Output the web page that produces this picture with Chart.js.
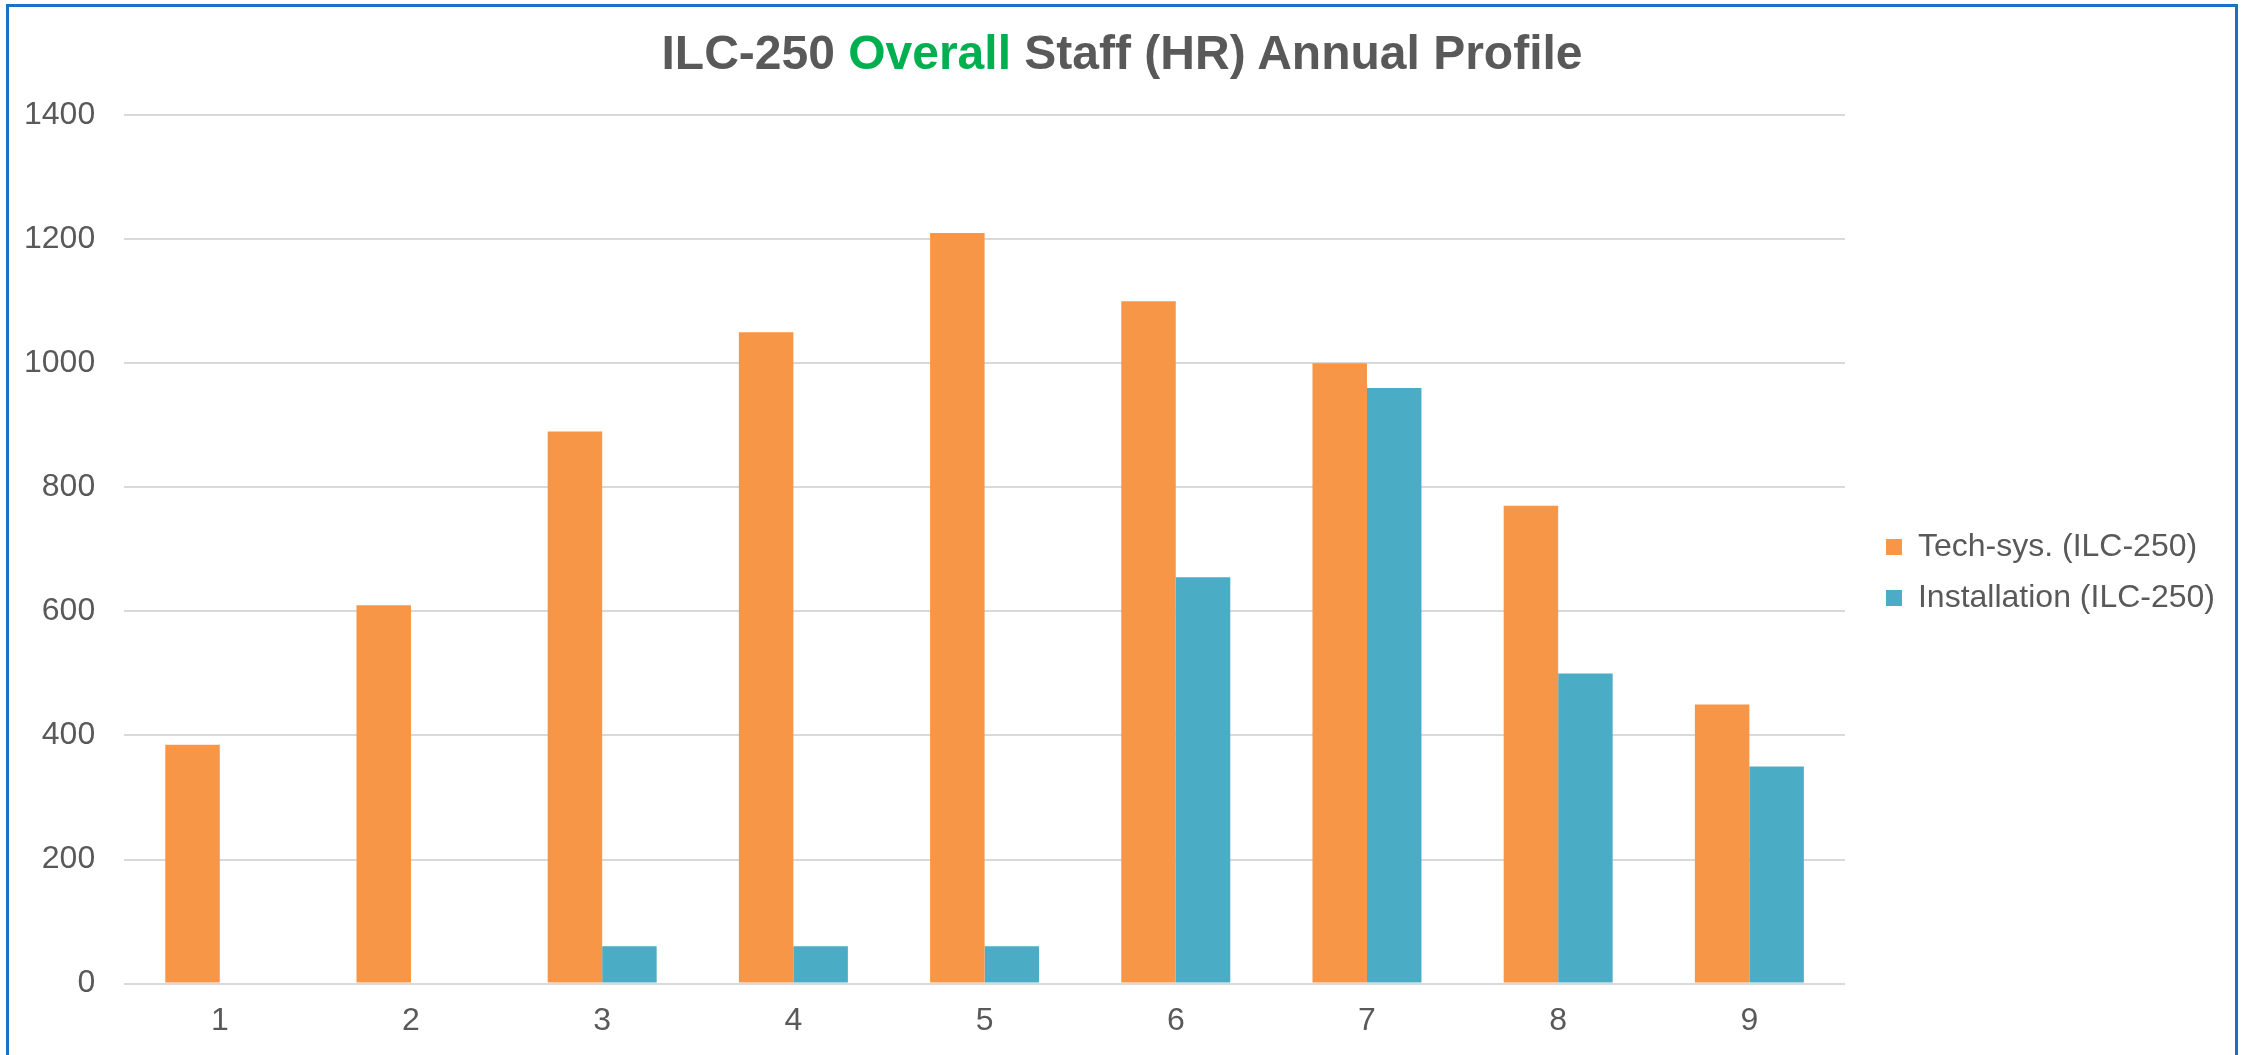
<!DOCTYPE html>
<html>
<head>
<meta charset="utf-8">
<title>ILC-250 Overall Staff (HR) Annual Profile</title>
<script src="https://cdn.jsdelivr.net/npm/chart.js@4.4.1/dist/chart.umd.min.js"></script>
<style>
    html, body { margin: 0; padding: 0; background: #fff; overflow: hidden; }
    #frame {
        position: absolute; left: 6px; top: 4px; width: 2226px; height: 1100px;
        border: 3px solid #1a72c6; border-bottom: none;
    }
    #title {
        position: absolute; left: 0; top: 29px; width: 2244px; text-align: center;
        font: bold 48px "Liberation Sans", Arial, sans-serif; line-height: 48px;
        color: #595959; white-space: nowrap;
    }
    #title span { color: #00b050; }
    #chart { position: absolute; left: 0; top: 0; }
</style>
</head>
<body>
<div id="frame"></div>
<canvas id="chart" width="2249" height="1055"></canvas>
<div id="title">ILC-250 <span>Overall</span> Staff (HR) Annual Profile</div>
<script>
const years = ['1', '2', '3', '4', '5', '6', '7', '8', '9'];
const techSys = [385, 610, 890, 1050, 1210, 1100, 1000, 770, 450];
const installation = [0, 0, 60, 60, 60, 655, 960, 500, 350];
const seriesNames = ['Tech-sys. (ILC-250)', 'Installation (ILC-250)'];

const TEXT = '#595959';
Chart.defaults.font.family = '"Liberation Sans", Arial, sans-serif';
Chart.defaults.font.size = 32;
Chart.defaults.color = TEXT;

// nudge the legend to where Excel puts it (right of the plot, about mid height)
const legendShift = {
    id: 'legendShift',
    afterLayout(chart) {
        const l = chart.legend;
        const dx = 22, dy = -14;
        l.left += dx; l.right += dx;
        l.top += dy; l.bottom += dy;
    }
};

new Chart(document.getElementById('chart'), {
    type: 'bar',
    data: {
        labels: years,
        datasets: [
            { label: seriesNames[0], data: techSys, backgroundColor: '#f79646' },
            { label: seriesNames[1], data: installation, backgroundColor: '#4bacc6' }
        ]
    },
    options: {
        responsive: false,
        animation: false,
        devicePixelRatio: 1,
        // axis tick padding is counted twice in the axis size, hence the negative values
        layout: { padding: { left: -5, top: 115, right: 46, bottom: -3 } },
        datasets: { bar: { categoryPercentage: 0.57, barPercentage: 1.0 } },
        scales: {
            x: {
                grid: { display: false, drawTicks: false },
                border: { display: false },
                ticks: { padding: 18, color: TEXT }
            },
            y: {
                min: 0, max: 1400,
                ticks: { stepSize: 200, padding: 29, color: TEXT, callback: v => String(v) },
                grid: { color: '#d9d9d9', lineWidth: 2, drawTicks: false },
                border: { display: false }
            }
        },
        plugins: {
            title: { display: false },
            tooltip: { enabled: false },
            legend: {
                position: 'right',
                labels: { boxWidth: 16, boxHeight: 16, padding: 19, color: TEXT, font: { size: 32 } }
            }
        }
    },
    plugins: [legendShift]
});
</script>
</body>
</html>
